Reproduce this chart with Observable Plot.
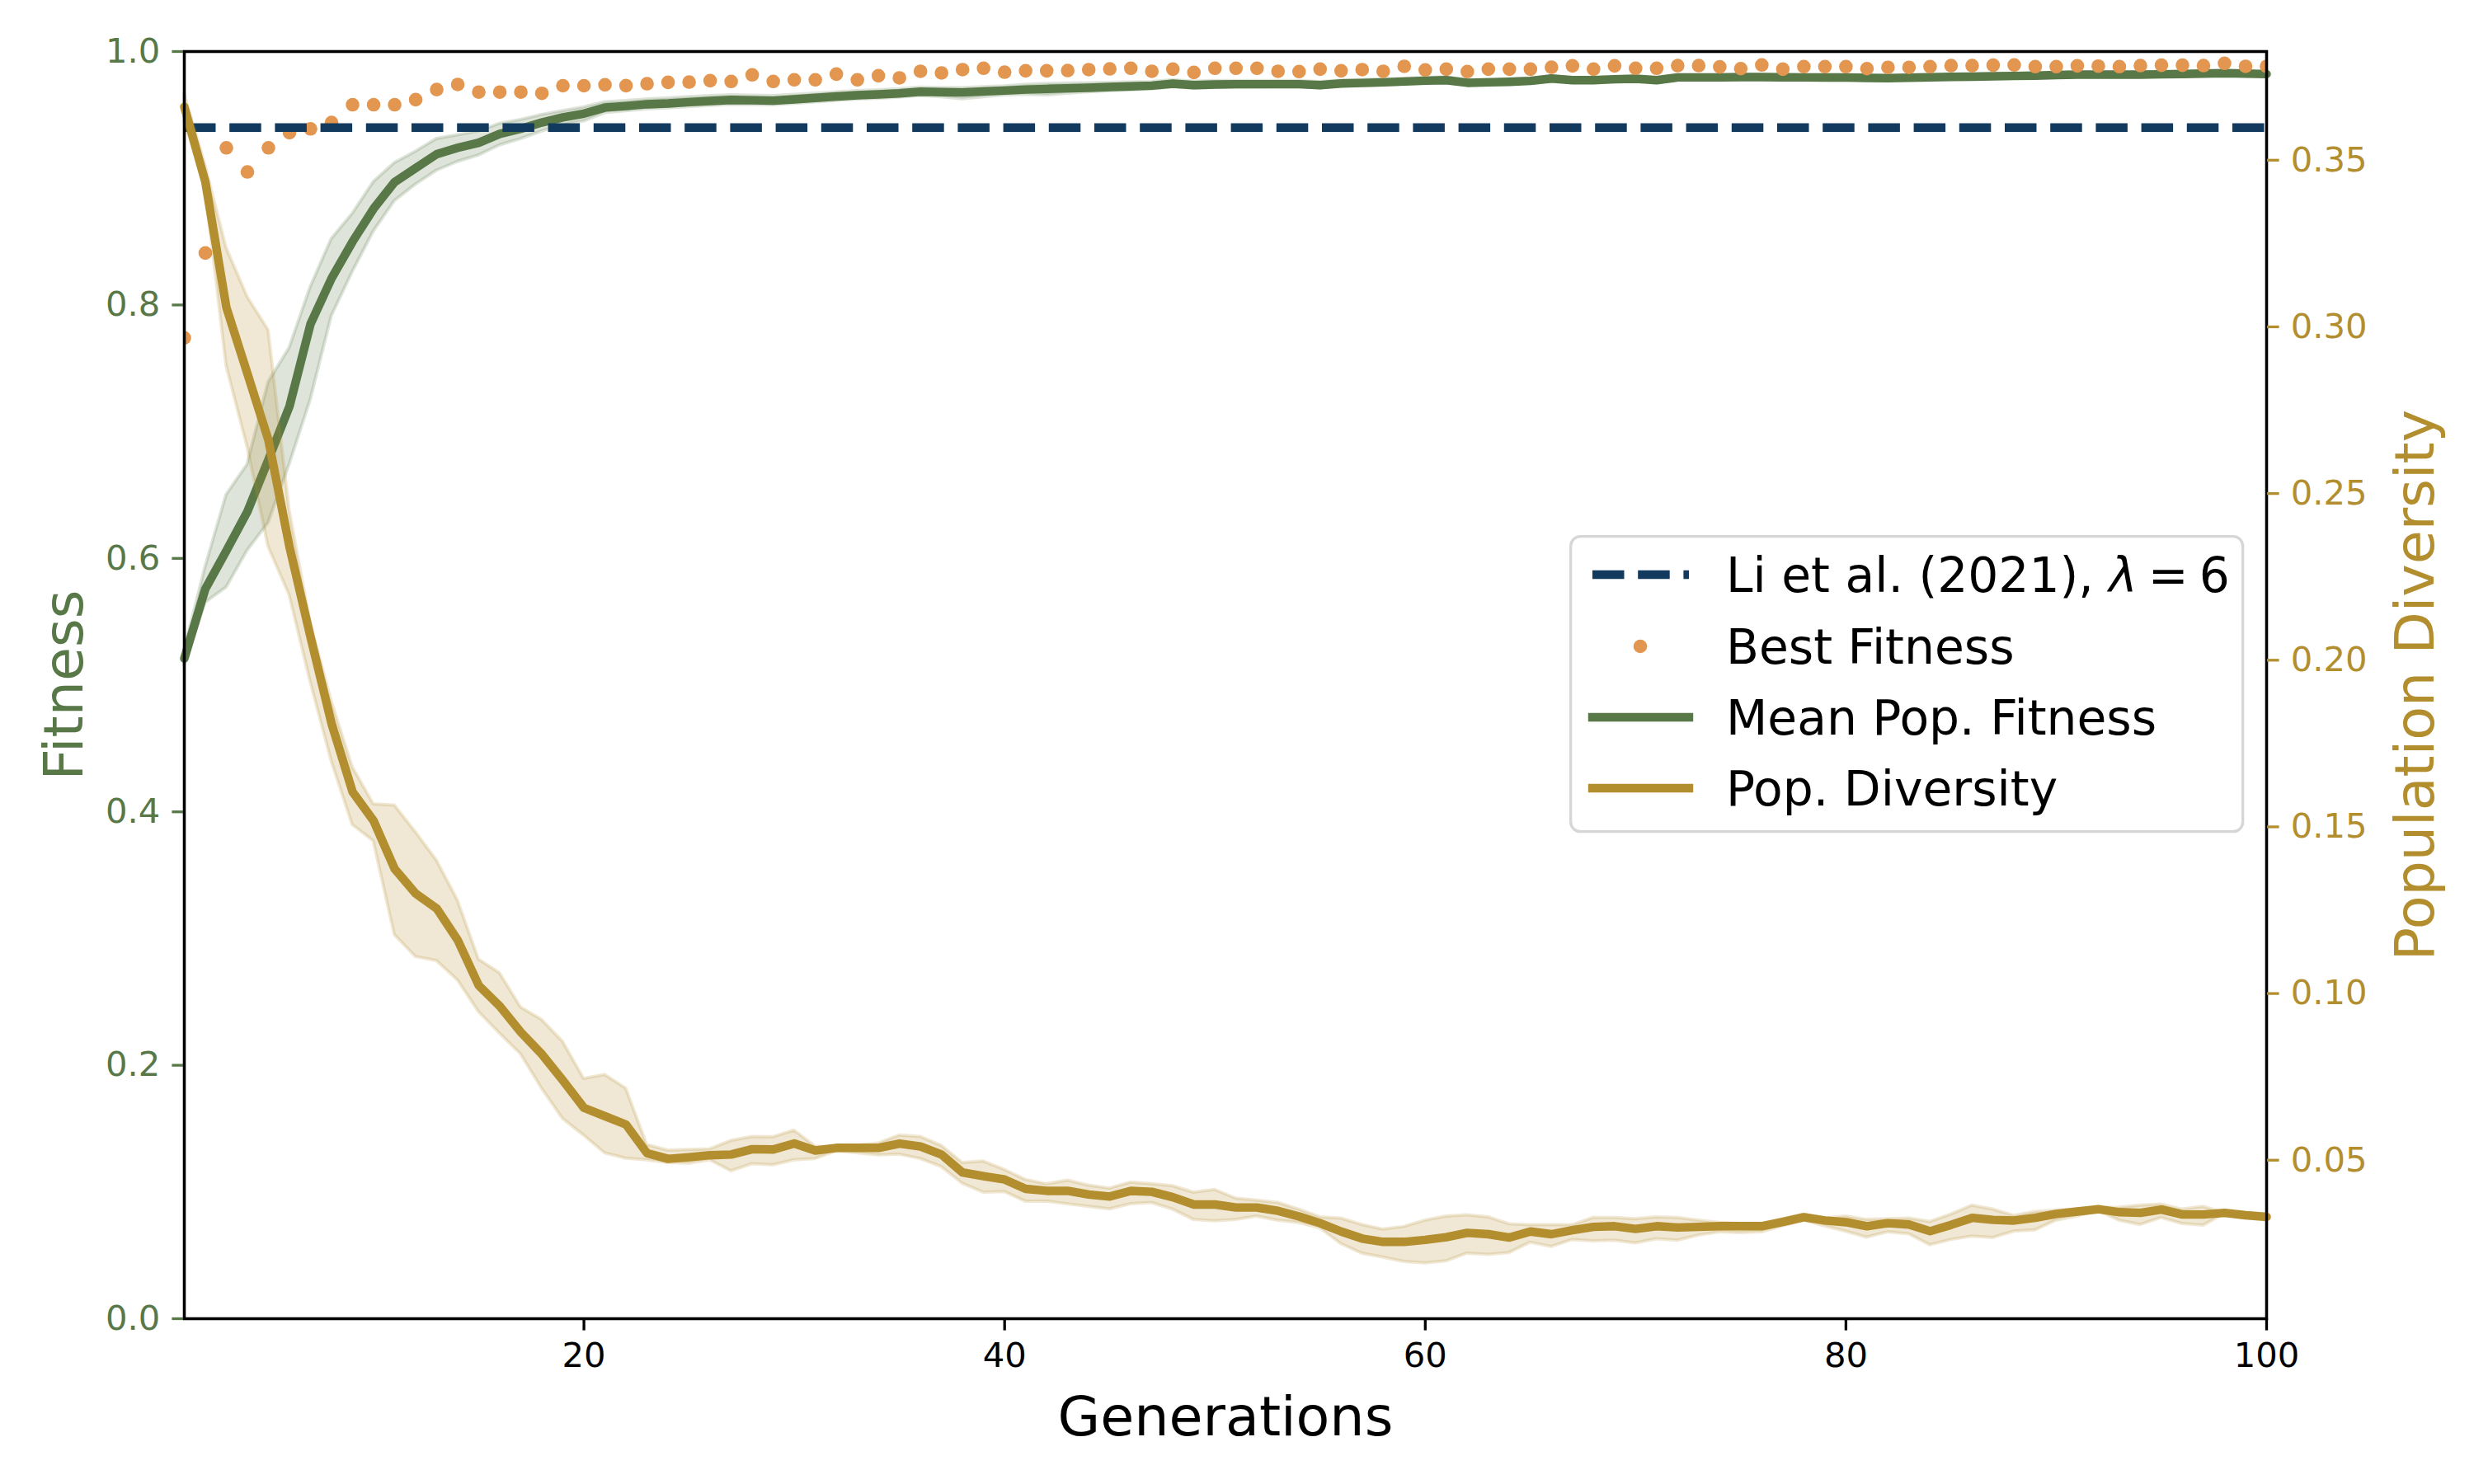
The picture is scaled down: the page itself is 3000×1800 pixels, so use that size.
<!DOCTYPE html>
<html><head><meta charset="utf-8">
<script src="https://cdn.jsdelivr.net/npm/d3@7"></script>
<script src="https://cdn.jsdelivr.net/npm/@observablehq/plot@0.6"></script>
<style>
body{margin:0;background:white}
#wrap{position:relative;width:3000px;height:1800px;background:white}
#wrap > svg{position:absolute;left:0;top:0}
</style>
</head><body><div id="wrap"></div>
<script>
// ---------------- data ----------------
const generations = d3.range(1, 101);
const liReference = 0.94;
const xTicks = [20, 40, 60, 80, 100];
const fitnessTicks = [0, 0.2, 0.4, 0.6, 0.8, 1.0];
const diversityTicks = [0.05, 0.10, 0.15, 0.20, 0.25, 0.30, 0.35];

const bestFitness = [
0.774,0.841,0.924,0.905,0.924,0.936,0.939,0.944,0.958,0.958,
0.958,0.962,0.970,0.974,0.968,0.968,0.968,0.967,0.973,0.973,
0.9738,0.9731,0.9746,0.9757,0.9759,0.9770,0.9764,0.9816,0.9764,0.9777,
0.9777,0.9822,0.9777,0.9809,0.9792,0.9844,0.9831,0.9857,0.9868,0.9837,
0.9848,0.9848,0.9850,0.9857,0.9863,0.9868,0.9844,0.9861,0.9835,0.9868,
0.9868,0.9868,0.9844,0.9842,0.9861,0.9848,0.9857,0.9844,0.9883,0.9855,
0.9861,0.9842,0.9861,0.9861,0.9861,0.9876,0.9887,0.9861,0.9887,0.9868,
0.9868,0.9889,0.9889,0.9879,0.9865,0.9894,0.9861,0.9881,0.9881,0.9881,
0.9865,0.9875,0.9875,0.9881,0.9889,0.9889,0.9892,0.9894,0.9881,0.9881,
0.9887,0.9885,0.9881,0.9889,0.9892,0.9892,0.9889,0.9907,0.9883,0.9883];

const meanFitness = [
0.521,0.576,0.606,0.637,0.678,0.720,0.785,0.821,0.850,0.876,
0.897,0.908,0.919,0.924,0.928,0.935,0.939,0.944,0.948,0.951,
0.9558,0.9570,0.9584,0.9590,0.9601,0.9610,0.9618,0.9615,0.9612,0.9623,
0.9634,0.9645,0.9655,0.9662,0.9670,0.9683,0.9680,0.9677,0.9685,0.9692,
0.9700,0.9705,0.9710,0.9714,0.9720,0.9725,0.9731,0.9746,0.9735,0.9740,
0.9742,0.9742,0.9742,0.9742,0.9735,0.9748,0.9752,0.9757,0.9763,0.9770,
0.9774,0.9753,0.9757,0.9761,0.9768,0.9787,0.9774,0.9774,0.9781,0.9785,
0.9774,0.9796,0.9796,0.9796,0.9798,0.9798,0.9797,0.9796,0.9795,0.9795,
0.9792,0.9790,0.9793,0.9797,0.9800,0.9802,0.9805,0.9807,0.9810,0.9815,
0.9818,0.9818,0.9818,0.9818,0.9820,0.9823,0.9826,0.9829,0.9826,0.9822];

const meanFitnessLow = [
0.515,0.565,0.577,0.606,0.628,0.674,0.725,0.791,0.826,0.858,
0.882,0.895,0.906,0.913,0.918,0.926,0.931,0.937,0.942,0.945,
0.9515,0.9530,0.9545,0.9552,0.9563,0.9572,0.9580,0.9578,0.9577,0.9588,
0.9600,0.9612,0.9622,0.9628,0.9638,0.9650,0.9640,0.9625,0.9640,0.9655,
0.9660,0.9655,0.9668,0.9680,0.9688,0.9695,0.9702,0.9718,0.9708,0.9713,
0.9716,0.9717,0.9718,0.9718,0.9711,0.9725,0.9729,0.9734,0.9741,0.9748,
0.9752,0.9733,0.9737,0.9741,0.9749,0.9770,0.9758,0.9758,0.9765,0.9769,
0.9759,0.9781,0.9782,0.9782,0.9784,0.9784,0.9783,0.9782,0.9781,0.9781,
0.9778,0.9776,0.9780,0.9784,0.9787,0.9789,0.9792,0.9794,0.9797,0.9802,
0.9805,0.9805,0.9806,0.9806,0.9808,0.9811,0.9814,0.9817,0.9814,0.9810];

const meanFitnessHigh = [
0.527,0.593,0.650,0.674,0.739,0.766,0.814,0.852,0.872,0.897,
0.912,0.921,0.931,0.934,0.937,0.943,0.946,0.950,0.953,0.956,
0.9600,0.9610,0.9622,0.9630,0.9640,0.9648,0.9655,0.9652,0.9648,0.9658,
0.9668,0.9678,0.9688,0.9695,0.9702,0.9715,0.9712,0.9712,0.9718,0.9725,
0.9738,0.9745,0.9748,0.9750,0.9752,0.9756,0.9760,0.9774,0.9763,0.9767,
0.9768,0.9768,0.9767,0.9767,0.9759,0.9771,0.9775,0.9780,0.9785,0.9792,
0.9796,0.9773,0.9777,0.9781,0.9787,0.9804,0.9790,0.9790,0.9797,0.9801,
0.9789,0.9811,0.9810,0.9810,0.9812,0.9812,0.9811,0.9810,0.9809,0.9809,
0.9806,0.9804,0.9806,0.9810,0.9813,0.9815,0.9818,0.9820,0.9823,0.9828,
0.9831,0.9831,0.9830,0.9830,0.9832,0.9835,0.9838,0.9841,0.9838,0.9834];

const diversity = [
0.366,0.3435,0.3058,0.286,0.266,0.234,0.207,0.181,0.1605,0.1518,
0.1374,0.1300,0.1255,0.1160,0.1024,0.0962,0.0884,0.0818,0.0739,0.0657,
0.0632,0.0607,0.0521,0.0504,0.0509,0.0515,0.0517,0.0533,0.0532,0.0550,
0.0529,0.0537,0.0537,0.0537,0.0550,0.0541,0.0517,0.0463,0.0452,0.0442,
0.0414,0.0408,0.0408,0.0397,0.0391,0.0408,0.0405,0.0389,0.0367,0.0367,
0.0358,0.0358,0.0348,0.0331,0.0311,0.0286,0.0265,0.0255,0.0255,0.0261,
0.0269,0.0282,0.0278,0.0268,0.0286,0.0278,0.0290,0.0300,0.0302,0.0294,
0.0302,0.0298,0.0300,0.0302,0.0302,0.0302,0.0315,0.0329,0.0319,0.0314,
0.0302,0.0311,0.0307,0.0287,0.0306,0.0327,0.0321,0.0319,0.0327,0.0339,
0.0346,0.0353,0.0344,0.0342,0.0352,0.0337,0.0337,0.0342,0.0335,0.0330];

const diversityLow = [
0.362,0.3419,0.2884,0.264,0.234,0.2195,0.1935,0.1697,0.1506,0.1457,
0.1176,0.1110,0.1098,0.1040,0.0945,0.0880,0.0818,0.0715,0.0624,0.0574,
0.0521,0.0505,0.0500,0.0492,0.0490,0.0500,0.0467,0.0488,0.0485,0.0500,
0.0504,0.0527,0.0521,0.0515,0.0517,0.0504,0.0480,0.0430,0.0403,0.0405,
0.0376,0.0376,0.0368,0.0360,0.0353,0.0368,0.0372,0.0352,0.0321,0.0317,
0.0321,0.0331,0.0319,0.0312,0.0296,0.0249,0.0220,0.0208,0.0195,0.0191,
0.0197,0.0220,0.0216,0.0222,0.0253,0.0240,0.0261,0.0257,0.0259,0.0251,
0.0263,0.0259,0.0274,0.0284,0.0282,0.0284,0.0302,0.0319,0.0302,0.0286,
0.0268,0.0284,0.0278,0.0245,0.0261,0.0271,0.0267,0.0286,0.0290,0.0319,
0.0331,0.0348,0.0319,0.0306,0.0327,0.0309,0.0304,0.0339,0.0333,0.0328];

const diversityHigh = [
0.370,0.3484,0.3237,0.309,0.299,0.245,0.211,0.1877,0.1679,0.1568,
0.1564,0.1484,0.1399,0.1279,0.1102,0.1061,0.0958,0.0921,0.0855,0.0744,
0.0756,0.0715,0.0546,0.0529,0.0531,0.0533,0.0558,0.0570,0.0569,0.0589,
0.0541,0.0537,0.0543,0.0550,0.0574,0.0570,0.0543,0.0492,0.0496,0.0471,
0.0441,0.0428,0.0439,0.0424,0.0415,0.0433,0.0428,0.0422,0.0403,0.0411,
0.0385,0.0379,0.0372,0.0352,0.0329,0.0325,0.0306,0.0292,0.0300,0.0319,
0.0331,0.0335,0.0329,0.0308,0.0305,0.0305,0.0305,0.0327,0.0327,0.0323,
0.0329,0.0327,0.0319,0.0312,0.0309,0.0309,0.0323,0.0337,0.0325,0.0331,
0.0321,0.0323,0.0325,0.0315,0.0337,0.0364,0.0352,0.0333,0.0345,0.0349,
0.0352,0.0356,0.0358,0.0364,0.0367,0.0352,0.0360,0.0342,0.0337,0.0332];

const legendLabels = ["Li et al. (2021), ", "Best Fitness", "Mean Pop. Fitness", "Pop. Diversity"];

// ---------------- styles ----------------
const green = "#587848", gold = "#B38E2F", orange = "#E29650", navy = "#123A5E";
const W = 3000, H = 1800;
const margins = {marginLeft: 223, marginRight: 252, marginTop: 62, marginBottom: 201};
const tickFont = 41.7, labelFont = 66.7, lw = 10.4, spine = 3.3, tickLen = 14.6;

const rows = generations.map((g, i) => ({
  g, best: bestFitness[i], mean: meanFitness[i], meanLo: meanFitnessLow[i], meanHi: meanFitnessHigh[i],
  div: diversity[i], divLo: diversityLow[i], divHi: diversityHigh[i]
}));

const plotA = Plot.plot({
  width: W, height: H, ...margins,
  style: {fontFamily: "DejaVu Sans", background: "white"},
  x: {domain: [1, 100]},
  y: {domain: [0, 1]},
  marks: [
    Plot.areaY(rows, {x: "g", y1: "meanLo", y2: "meanHi", fill: green, fillOpacity: 0.2, stroke: green, strokeOpacity: 0.2, strokeWidth: 4}),
    Plot.lineY(rows, {x: "g", y: "mean", stroke: green, strokeWidth: lw}),
    Plot.dot(rows, {x: "g", y: "best", r: 8.3, fill: orange, clip: true}),
    Plot.ruleY([liReference], {stroke: navy, strokeWidth: lw, strokeDasharray: "38.5,16.7"}),
    Plot.frame({stroke: "black", strokeWidth: spine}),
    Plot.axisX({ticks: xTicks, tickSize: tickLen, tickPadding: tickLen, fontSize: tickFont, strokeWidth: spine, label: null, color: "black"}),
    Plot.axisY({ticks: fitnessTicks, tickFormat: d3.format(".1f"), tickSize: tickLen, tickPadding: tickLen, fontSize: tickFont, strokeWidth: spine, label: null, color: green}),
    Plot.text(["Generations"], {text: d => d, frameAnchor: "bottom", lineAnchor: "middle", textAnchor: "middle", dy: 120, fontSize: labelFont, fill: "black"}),
    Plot.text(["Fitness"], {text: d => d, frameAnchor: "left", lineAnchor: "middle", textAnchor: "middle", dx: -145, rotate: -90, fontSize: labelFont, fill: green})
  ]
});

const plotB = Plot.plot({
  width: W, height: H, ...margins,
  style: {fontFamily: "DejaVu Sans", background: "transparent"},
  x: {domain: [1, 100], axis: null},
  y: {domain: [0.00245, 0.3826]},
  marks: [
    Plot.areaY(rows, {x: "g", y1: "divLo", y2: "divHi", fill: gold, fillOpacity: 0.2, stroke: gold, strokeOpacity: 0.2, strokeWidth: 4}),
    Plot.lineY(rows, {x: "g", y: "div", stroke: gold, strokeWidth: lw}),
    Plot.frame({stroke: "black", strokeWidth: spine}),
    Plot.axisY({anchor: "right", ticks: diversityTicks, tickFormat: d3.format(".2f"), tickSize: tickLen, tickPadding: tickLen, fontSize: tickFont, strokeWidth: spine, label: null, color: gold}),
    Plot.text(["Population Diversity"], {text: d => d, frameAnchor: "right", lineAnchor: "middle", textAnchor: "middle", dx: 181, rotate: -90, fontSize: labelFont, fill: gold})
  ]
});

const wrap = document.getElementById("wrap");
wrap.appendChild(plotA);
wrap.appendChild(plotB);

// ---------------- legend ----------------
const lg = d3.select(wrap).append("svg")
  .attr("width", 820).attr("height", 362)
  .style("left", "1903px").style("top", "649px")
  .style("font-family", "DejaVu Sans");
lg.append("rect").attr("x", 1.65).attr("y", 1.65).attr("width", 815).attr("height", 358)
  .attr("rx", 11.7).attr("fill", "white").attr("fill-opacity", 0.8)
  .attr("stroke", "#d6d6d6").attr("stroke-width", 3.3);
const rowY = [48, 135, 221, 307];
const hx1 = 28, hx2 = 145, tx = 190, lf = 58.3;
lg.append("line").attr("x1", hx1).attr("x2", hx2).attr("y1", rowY[0]).attr("y2", rowY[0])
  .attr("stroke", navy).attr("stroke-width", lw).attr("stroke-dasharray", "38.5,16.7");
lg.append("circle").attr("cx", 86).attr("cy", rowY[1]).attr("r", 8.3).attr("fill", orange);
lg.append("line").attr("x1", hx1).attr("x2", hx2).attr("y1", rowY[2]).attr("y2", rowY[2])
  .attr("stroke", green).attr("stroke-width", lw).attr("stroke-linecap", "square");
lg.append("line").attr("x1", hx1).attr("x2", hx2).attr("y1", rowY[3]).attr("y2", rowY[3])
  .attr("stroke", gold).attr("stroke-width", lw).attr("stroke-linecap", "square");
legendLabels.forEach((t, i) => {
  const txt = lg.append("text").attr("x", tx).attr("y", rowY[i] + 21).attr("font-size", lf).attr("fill", "black").text(t);
  if (i === 0) {
    txt.append("tspan").attr("font-style", "italic").text("λ");
    txt.append("tspan").attr("dx", 13).text("=");
    txt.append("tspan").attr("dx", 13).text("6");
  }
});
</script>
</body></html>
